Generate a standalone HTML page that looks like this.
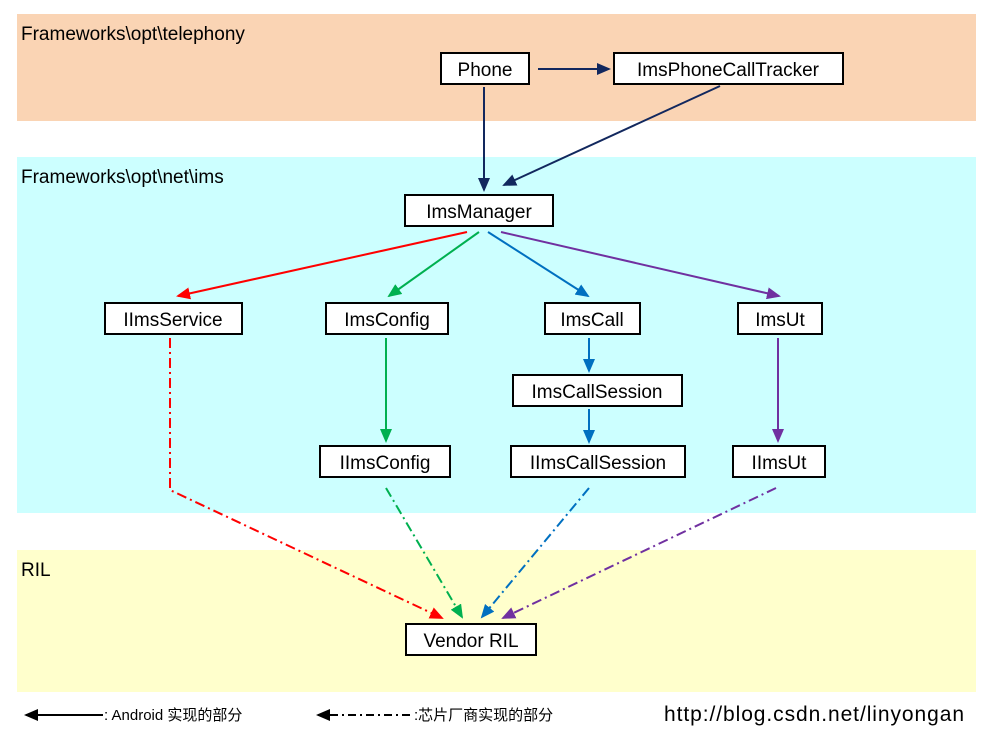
<!DOCTYPE html>
<html><head><meta charset="utf-8"><style>
body{margin:0;background:#fff;width:994px;height:737px;overflow:hidden}
text{font-family:"Liberation Sans","Noto Sans CJK SC",sans-serif}
</style></head><body>
<svg width="994" height="737" xmlns="http://www.w3.org/2000/svg">
<defs>
<marker id="n" markerWidth="14" markerHeight="12" refX="12" refY="6" orient="auto" markerUnits="userSpaceOnUse"><path d="M0,0 L14,6 L0,12 z" fill="#12285e"/></marker>
<marker id="r" markerWidth="14" markerHeight="12" refX="12" refY="6" orient="auto" markerUnits="userSpaceOnUse"><path d="M0,0 L14,6 L0,12 z" fill="#ff0000"/></marker>
<marker id="g" markerWidth="14" markerHeight="12" refX="12" refY="6" orient="auto" markerUnits="userSpaceOnUse"><path d="M0,0 L14,6 L0,12 z" fill="#00b050"/></marker>
<marker id="b" markerWidth="14" markerHeight="12" refX="12" refY="6" orient="auto" markerUnits="userSpaceOnUse"><path d="M0,0 L14,6 L0,12 z" fill="#0070c0"/></marker>
<marker id="p" markerWidth="14" markerHeight="12" refX="12" refY="6" orient="auto" markerUnits="userSpaceOnUse"><path d="M0,0 L14,6 L0,12 z" fill="#7030a0"/></marker>
<marker id="k" markerWidth="14" markerHeight="12" refX="12" refY="6" orient="auto" markerUnits="userSpaceOnUse"><path d="M0,0 L14,6 L0,12 z" fill="#000"/></marker>
</defs>
<rect x="17" y="14" width="959" height="107" fill="#fad4b4"/>
<rect x="17" y="157" width="959" height="356" fill="#ccffff"/>
<rect x="17" y="550" width="959" height="142" fill="#ffffcc"/>
<g font-size="19" fill="#000">
<text x="21" y="40">Frameworks\opt\telephony</text>
<text x="21" y="183">Frameworks\opt\net\ims</text>
<text x="21" y="576">RIL</text>
</g>
<g stroke-width="2" fill="none">
<line x1="538" y1="69" x2="609" y2="69" stroke="#12285e" marker-end="url(#n)"/>
<line x1="484" y1="87" x2="484" y2="190" stroke="#12285e" marker-end="url(#n)"/>
<line x1="720" y1="86" x2="504" y2="185" stroke="#12285e" marker-end="url(#n)"/>
<line x1="467" y1="232" x2="178" y2="296" stroke="#ff0000" marker-end="url(#r)"/>
<line x1="479" y1="232" x2="389" y2="296" stroke="#00b050" marker-end="url(#g)"/>
<line x1="488" y1="232" x2="588" y2="296" stroke="#0070c0" marker-end="url(#b)"/>
<line x1="501" y1="232" x2="779" y2="296" stroke="#7030a0" marker-end="url(#p)"/>
<line x1="386" y1="338" x2="386" y2="441" stroke="#00b050" marker-end="url(#g)"/>
<line x1="589" y1="338" x2="589" y2="371" stroke="#0070c0" marker-end="url(#b)"/>
<line x1="589" y1="409" x2="589" y2="442" stroke="#0070c0" marker-end="url(#b)"/>
<line x1="778" y1="338" x2="778" y2="441" stroke="#7030a0" marker-end="url(#p)"/>
<polyline points="170,338 170,490 442,618" stroke="#ff0000" stroke-dasharray="10,4,2,4" marker-end="url(#r)"/>
<line x1="386" y1="488" x2="462" y2="617" stroke="#00b050" stroke-dasharray="10,4,2,4" marker-end="url(#g)"/>
<line x1="589" y1="488" x2="482" y2="617" stroke="#0070c0" stroke-dasharray="10,4,2,4" marker-end="url(#b)"/>
<line x1="776" y1="488" x2="503" y2="618" stroke="#7030a0" stroke-dasharray="10,4,2,4" marker-end="url(#p)"/>
<line x1="103" y1="715" x2="26" y2="715" stroke="#000" marker-end="url(#k)"/>
<line x1="410" y1="715" x2="318" y2="715" stroke="#000" stroke-dasharray="8,4,2,4" marker-end="url(#k)"/>
</g>
<g fill="#fff" stroke="#000" stroke-width="2">
<rect x="441" y="53" width="88" height="31"/>
<rect x="614" y="53" width="229" height="31"/>
<rect x="405" y="195" width="148" height="31"/>
<rect x="105" y="303" width="137" height="31"/>
<rect x="326" y="303" width="122" height="31"/>
<rect x="545" y="303" width="95" height="31"/>
<rect x="738" y="303" width="84" height="31"/>
<rect x="513" y="375" width="169" height="31"/>
<rect x="320" y="446" width="130" height="31"/>
<rect x="511" y="446" width="174" height="31"/>
<rect x="733" y="446" width="92" height="31"/>
<rect x="406" y="624" width="130" height="31"/>
</g>
<g font-size="19" fill="#000" text-anchor="middle">
<text x="485" y="76">Phone</text>
<text x="728" y="76">ImsPhoneCallTracker</text>
<text x="479" y="218">ImsManager</text>
<text x="173" y="326">IImsService</text>
<text x="387" y="326">ImsConfig</text>
<text x="592" y="326">ImsCall</text>
<text x="780" y="326">ImsUt</text>
<text x="597" y="398">ImsCallSession</text>
<text x="385" y="469">IImsConfig</text>
<text x="598" y="469">IImsCallSession</text>
<text x="779" y="469">IImsUt</text>
<text x="471" y="647">Vendor RIL</text>
</g>
<g font-size="15" fill="#000">
<text x="104" y="720">: Android 实现的部分</text>
<text x="414" y="720">:芯片厂商实现的部分</text>
</g>
<text x="664" y="721" font-size="21" fill="#000" textLength="300">http://blog.csdn.net/linyongan</text>
</svg>
</body></html>
